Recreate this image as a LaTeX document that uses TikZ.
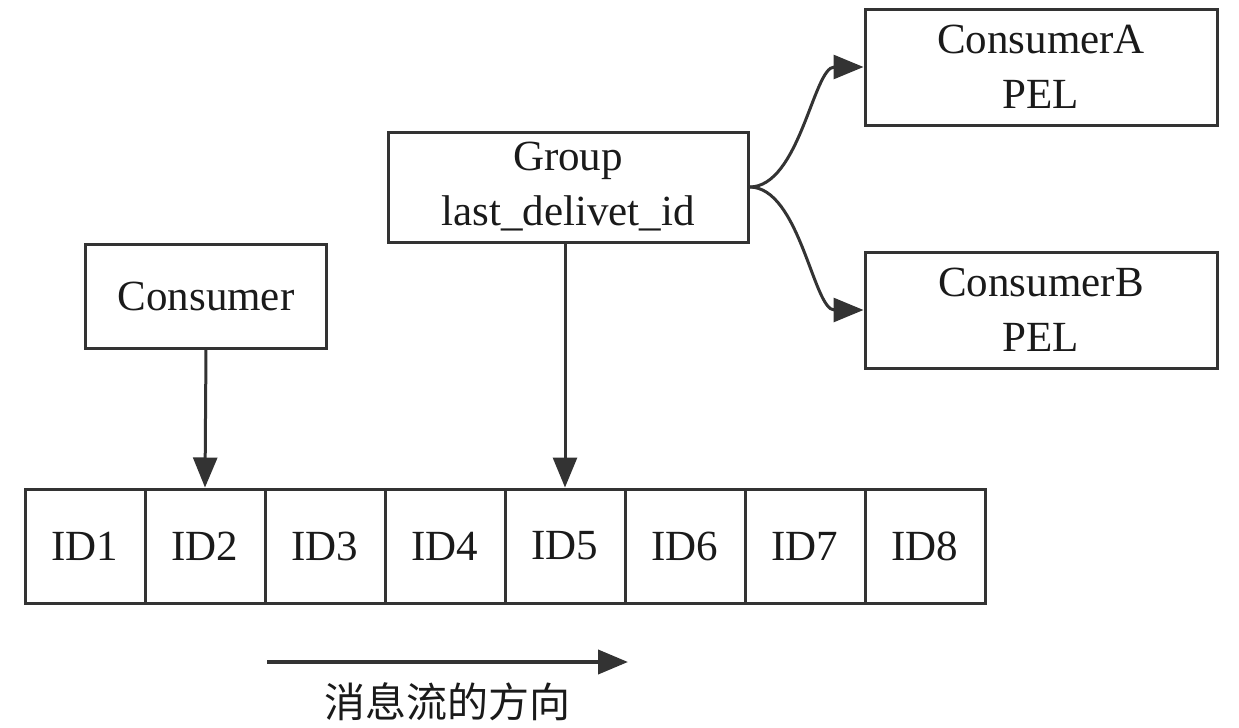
\documentclass[tikz,border=0pt]{standalone}
\usepackage{fontspec}
\setmainfont{Liberation Serif}
\newfontfamily\cjkfont{Noto Sans CJK SC}
\usetikzlibrary{arrows.meta}
\definecolor{linegray}{HTML}{333333}
\definecolor{textgray}{HTML}{1A1A1A}
\tikzset{
  box/.style={draw=linegray,line width=1.5pt,inner sep=0pt,align=center,text=textgray,
    font=\fontsize{21.5}{27.5}\selectfont},
  idcell/.style={box,minimum width=60pt,minimum height=57pt},
  flow/.style={draw=linegray,line width=1.5pt,-{Triangle[length=15pt,width=12pt]}}
}
\begin{document}
\begin{tikzpicture}[x=0.5pt,y=-0.5pt]
\useasboundingbox (0,0) rectangle (1239,728);

\node[box,minimum width=176pt,minimum height=58pt] (CA) at (1041,67) {ConsumerA\\PEL};
\node[box,minimum width=176pt,minimum height=58pt] (CB) at (1041,310) {ConsumerB\\PEL};
\node[box,minimum width=180pt,minimum height=55pt] (G) at (568,187) {Group\\last\_delivet\_id};
\node[box,minimum width=120.5pt,minimum height=52pt] (C) at (206,296) {Consumer};

\foreach \i in {1,...,8}
  \node[idcell] (id\i) at ({85+(\i-1)*120},546) {ID\i};

\draw[flow] (C.south) -- (id2.north);
\draw[flow] (G.south -| id5.north) -- (id5.north);
\draw[flow] (G.east) .. controls +(50,0) and +(-50,0) .. (CA.west);
\draw[flow] (G.east) .. controls +(50,0) and +(-50,0) .. (CB.west);

% direction of the message stream
\coordinate (dirL) at (267,662);
\coordinate (dirR) at (628,662);
\draw[flow,line width=2pt] (dirL) -- (dirR);
\node[text=textgray,font=\cjkfont\fontsize{20.5}{24}\selectfont] (dirtext) at (447,702) {消息流的方向};
\end{tikzpicture}
\end{document}
